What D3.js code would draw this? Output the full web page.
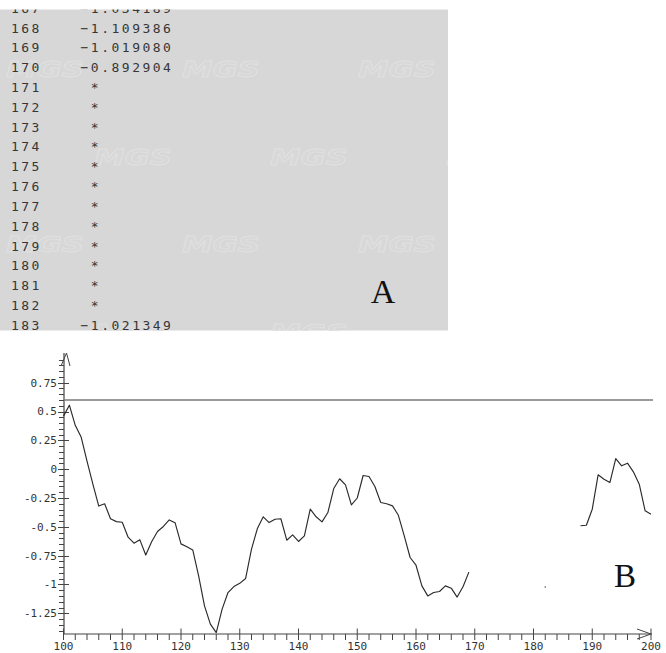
<!DOCTYPE html>
<html><head><meta charset="utf-8">
<script src="https://cdn.jsdelivr.net/npm/d3@7"></script>
<style>body{margin:0;background:#fff}svg{display:block}</style>
</head><body><svg id="c" width="666" height="653"></svg>
<script>
// ---- Panel A: table text ----
const tableIndex = ["167","168","169","170","171","172","173","174","175","176","177","178","179","180","181","182","183"];
const tableValues = ["−1.034189","−1.109386","−1.019080","−0.892904"," *"," *"," *"," *"," *"," *"," *"," *"," *"," *"," *"," *","−1.021349"];

// ---- Panel B: profile ----
const startPos = 100;
const profile = [
  0.46, 0.555, 0.38, 0.28, 0.07, -0.13, -0.32, -0.30, -0.43, -0.455,          // 100-109
  -0.46, -0.59, -0.642, -0.613, -0.745, -0.63, -0.54, -0.497, -0.44, -0.465,  // 110-119
  -0.648, -0.672, -0.70, -0.925, -1.185, -1.344, -1.417, -1.214, -1.07, -1.018, // 120-129
  -0.99, -0.948, -0.694, -0.515, -0.413, -0.463, -0.434, -0.43, -0.616, -0.57, // 130-139
  -0.627, -0.578, -0.347, -0.413, -0.457, -0.376, -0.168, -0.083, -0.136, -0.31, // 140-149
  -0.25, -0.055, -0.064, -0.15, -0.289, -0.30, -0.318, -0.40, -0.578, -0.766, // 150-159
  -0.833, -1.012, -1.099, -1.07, -1.061, -1.012, -1.032, -1.109386, -1.019080, -0.892904, // 160-169
  null, null, null, null, null, null, null, null, null, null,                 // 170-179
  null, null, -1.021349, null, null, null, null, null, -0.491, -0.486,        // 180-189
  -0.347, -0.049, -0.087, -0.116, 0.092, 0.029, 0.052, -0.023, -0.13, -0.361, // 190-199
  -0.39                                                                        // 200
];
const refLine = 0.6;
const xMajorTicks = [100,110,120,130,140,150,160,170,180,190,200];
const yMajorTicks = [-1.25,-1,-0.75,-0.5,-0.25,0,0.25,0.5,0.75];
const yTickLabels = ["-1.25","-1","-0.75","-0.5","-0.25","0","0.25","0.5","0.75"];
const labelA = "A", labelB = "B";
const watermark = "MGS";

const svg = d3.select("#c");

// ===== Panel A =====
const gA = svg.append("g");
gA.append("defs").append("clipPath").attr("id","clipA")
  .append("rect").attr("x",0).attr("y",9.5).attr("width",448).attr("height",321);
gA.append("rect").attr("x",0).attr("y",9.5).attr("width",448).attr("height",321).attr("fill","#d7d7d7");
const gAc = gA.append("g").attr("clip-path","url(#clipA)");
// watermarks
const wmRows = [0,1,2,3];
wmRows.forEach(r => {
  const xs = r % 2 === 0 ? [6,182,358] : [94,270,446];
  xs.forEach(x => {
    gAc.append("text").attr("x",x).attr("y",77 + r*87.5)
      .attr("font-family","DejaVu Sans, sans-serif").attr("font-style","italic").attr("font-weight","bold")
      .attr("font-size",22).attr("textLength",78).attr("lengthAdjust","spacingAndGlyphs")
      .attr("fill","#d8d8d8").attr("stroke","#e1e1e1").attr("stroke-width",0.8)
      .text(watermark);
  });
});
const rowY = i => 32.5 + (i-1)*19.82;
tableIndex.forEach((t,i) => {
  gAc.append("text").attr("x",11).attr("y",rowY(i))
    .attr("font-family","DejaVu Sans Mono, monospace").attr("font-size",13)
    .attr("letter-spacing",2.4).attr("fill","#363636").style("white-space","pre").text(t);
  gAc.append("text").attr("x",80.5).attr("y",rowY(i))
    .attr("font-family","DejaVu Sans Mono, monospace").attr("font-size",13)
    .attr("letter-spacing",2.5).attr("fill","#363636").style("white-space","pre").text(tableValues[i]);
});
gA.append("text").attr("x",383).attr("y",303).attr("text-anchor","middle")
  .attr("font-family","Liberation Serif, serif").attr("font-size",34).attr("fill","#111").text(labelA);

// ===== Panel B =====
const x = d3.scaleLinear().domain([100,200]).range([63.5,651]);
const y = d3.scaleLinear().domain([-1.25,0.75]).range([613.3,382.7]);
const axisY0 = 634, axisX0 = 64;
const axCol = "#444";
const gB = svg.append("g");

// x axis
gB.append("line").attr("x1",axisX0).attr("x2",x(200)+1).attr("y1",axisY0).attr("y2",axisY0)
  .attr("stroke",axCol).attr("stroke-width",1.2);
d3.range(100,201,2).forEach(v => {
  const major = xMajorTicks.includes(v);
  gB.append("line").attr("x1",x(v)).attr("x2",x(v))
    .attr("y1",major ? axisY0-5.5 : axisY0).attr("y2",axisY0+6)
    .attr("stroke",axCol).attr("stroke-width",1);
});
xMajorTicks.forEach(v => {
  gB.append("text").attr("x",x(v)).attr("y",650).attr("text-anchor","middle")
    .attr("font-family","DejaVu Sans Mono, monospace").attr("font-size",11).attr("fill","#333").text(String(v));
});
// x arrow
gB.append("path").attr("d",`M${x(200)-14},${axisY0-5}L${x(200)},${axisY0}L${x(200)-14},${axisY0+5}`)
  .attr("fill","none").attr("stroke",axCol).attr("stroke-width",1);

// y axis
gB.append("line").attr("x1",axisX0).attr("x2",axisX0).attr("y1",axisY0).attr("y2",353)
  .attr("stroke",axCol).attr("stroke-width",1.2);
d3.range(-28,20).map(k => k*0.05).forEach(v => {
  const major = yMajorTicks.some(m => Math.abs(m - v) < 1e-6);
  const py = Math.round(y(v)) + 0.5;
  if (py > axisY0 - 1) return;
  gB.append("line").attr("x1",major ? axisX0-6 : axisX0-5).attr("x2",major ? axisX0+5 : axisX0)
    .attr("y1",py).attr("y2",py).attr("stroke",axCol).attr("stroke-width",1);
});
yMajorTicks.forEach((v,i) => {
  gB.append("text").attr("x",57).attr("y",y(v)).attr("dy","0.35em").attr("text-anchor","end")
    .attr("font-family","DejaVu Sans Mono, monospace").attr("font-size",11).attr("fill","#333").text(yTickLabels[i]);
});
// y arrow
gB.append("path").attr("d",`M${axisX0-3},${366}L${axisX0+2.5},${353}L${axisX0+6},${366}`)
  .attr("fill","none").attr("stroke",axCol).attr("stroke-width",1);

// reference line
gB.append("line").attr("x1",axisX0).attr("x2",653).attr("y1",y(refLine)).attr("y2",y(refLine))
  .attr("stroke","#7a7a7a").attr("stroke-width",1.5);

// profile line
const pts = profile.map((v,i) => ({p: startPos + i, v}));
const line = d3.line().defined(d => d.v !== null).x(d => x(d.p)).y(d => y(d.v));
gB.append("path").datum(pts).attr("d",line).attr("fill","none")
  .attr("stroke","#2b2b2b").attr("stroke-width",1.15).attr("stroke-linejoin","round");
// isolated points
pts.forEach((d,i) => {
  if (d.v === null) return;
  const prev = pts[i-1], next = pts[i+1];
  if ((!prev || prev.v === null) && (!next || next.v === null)) {
    gB.append("circle").attr("cx",x(d.p)).attr("cy",y(d.v)).attr("r",0.8).attr("fill","#555");
  }
});

gB.append("text").attr("x",625).attr("y",587).attr("text-anchor","middle")
  .attr("font-family","Liberation Serif, serif").attr("font-size",33).attr("fill","#111").text(labelB);
</script></body></html>
